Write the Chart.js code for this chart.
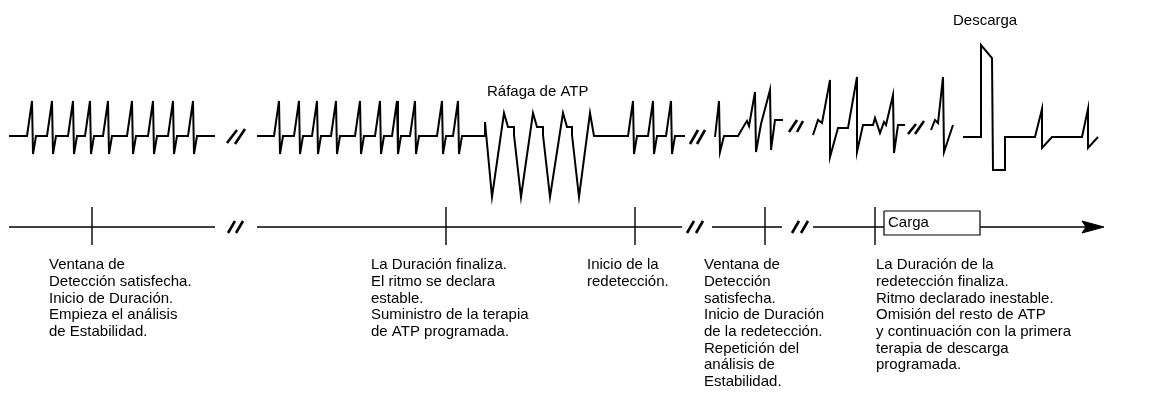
<!DOCTYPE html>
<html>
<head>
<meta charset="utf-8">
<script src="https://cdn.jsdelivr.net/npm/chart.js@4.4.1/dist/chart.umd.min.js"></script>
<style>
  html, body { margin: 0; padding: 0; background: #fff; }
  #wrap { width: 1168px; height: 401px; }
</style>
</head>
<body>
<div id="wrap"><canvas id="ecg" width="1168" height="401"></canvas></div>
<script>
// --- values ---
const baseline = 136;
// spike positions of the regular beats
const beatsA = [32, 52, 73, 90, 108, 132, 153, 173, 193];
const beatsB = [279, 299, 317, 336, 360, 380, 397, 415, 442, 458];
const beatsC = [633, 653, 671];

// ATP burst
const atpBurst = [[485,136],[485,122],[492,197],[504,113],[508,127],[514,127],[514,135],[521,197],
  [533,113],[537,127],[543,127],[543,135],[550,197],[563,113],[567,127],[572,127],[572,135],
  [579,197],[590,113],[594,136],[629,136]];

// redetection pieces
const redetect1 = [[715,137],[719,101],[720,152],[724,136],[738,136],[745,124],[747,121],[749,126],
  [755,92],[756,152],[761,124],[770,90],[771,150],[775,120],[783,120]];
const redetect2 = [[813,135],[818,120],[822,123],[830,80],[830,157],[838,128],[848,128],[857,77],
  [857,152],[863,125],[873,125],[875,118],[880,133],[884,122],[886,125],[893,95],[894,153],
  [898,125],[905,125]];
const redetect3 = [[931,130],[935,120],[938,123],[943,77],[944,152],[953,125]];
const shock = [[963,137],[981,137],[981,45],[992,58],[993,170],[1005,170],[1005,137],[1035,137],
  [1042,109],[1042,148],[1052,137],[1082,137],[1088,109],[1088,148],[1098,137]];

// break marks on the trace
const traceBreaks = [
  [[227,143],[237,130]], [[235,144],[245,129]],
  [[690,144],[698,130]], [[697,144],[705,130]],
  [[789,132],[797,120]], [[797,132],[803,121]],
  [[908,134],[916,124]], [[915,134],[924,121]]
];

// timeline
const timeY = 227;
const timeSegments = [[9,215],[257,682],[712,782],[813,884],[980,1100]];
const timeBreaks = [
  [[228,233],[235,221]], [[236,233],[243,221]],
  [[687,233],[694,221]], [[696,233],[703,221]],
  [[792,233],[799,221]], [[801,233],[808,221]]
];
const markers = [92, 446, 635, 765, 875];
const chargeBox = [[884,211],[980,211],[980,235],[884,235],[884,211]];
const arrowHead = [[1082,221],[1104,227],[1082,233],[1086,227],[1082,221]];

// labels
const captions = [
  { x: 49,  lines: ['Ventana de', 'Detección satisfecha.', 'Inicio de Duración.', 'Empieza el análisis', 'de Estabilidad.'] },
  { x: 371, lines: ['La Duración finaliza.', 'El ritmo se declara', 'estable.', 'Suministro de la terapia', 'de ATP programada.'] },
  { x: 587, lines: ['Inicio de la', 'redetección.'] },
  { x: 704, lines: ['Ventana de', 'Detección', 'satisfecha.', 'Inicio de Duración', 'de la redetección.', 'Repetición del', 'análisis de', 'Estabilidad.'] },
  { x: 876, lines: ['La Duración de la', 'redetección finaliza.', 'Ritmo declarado inestable.', 'Omisión del resto de ATP', 'y continuación con la primera', 'terapia de descarga', 'programada.'] }
];
const traceLabels = [
  { text: 'Ráfaga de ATP', x: 487, y: 92 },
  { text: 'Descarga', x: 953, y: 21 },
  { text: 'Carga', x: 888, y: 223 }
];

// --- build the line sets ---
function beat(x) {
  return [[x - 5, baseline], [x, 101], [x + 1, 154], [x + 4, baseline]];
}
function pts(list) {
  return list.map(p => ({ x: p[0], y: p[1] }));
}

let stripA = [[9, baseline]];
beatsA.forEach(b => { stripA = stripA.concat(beat(b)); });
stripA.push([215, baseline]);

let stripB = [[257, baseline]];
beatsB.forEach(b => { stripB = stripB.concat(beat(b)); });
stripB = stripB.concat(atpBurst);
beatsC.forEach(b => { stripB = stripB.concat(beat(b)); });
stripB.push([685, baseline]);

function line(list, width) {
  return {
    data: pts(list), showLine: true, borderColor: '#000', borderWidth: width || 2,
    pointRadius: 0, fill: false, tension: 0, borderJoinStyle: 'miter'
  };
}

const datasets = [];
[stripA, stripB, redetect1, redetect2, redetect3, shock].forEach(s => datasets.push(line(s, 2)));
traceBreaks.forEach(s => datasets.push(line(s, 2.6)));
timeSegments.forEach(s => datasets.push(line([[s[0], timeY], [s[1], timeY]], 1.4)));
timeBreaks.forEach(s => datasets.push(line(s, 2.6)));
markers.forEach(m => datasets.push(line([[m, 207], [m, 245]], 1.4)));
datasets.push(line(chargeBox, 1.2));
const head = line(arrowHead, 1);
head.fill = 'shape';
head.backgroundColor = '#000';
datasets.push(head);

// text on top of the lines
const textPlugin = {
  id: 'captions',
  afterDatasetsDraw(chart) {
    const ctx = chart.ctx;
    const sx = chart.scales.x, sy = chart.scales.y;
    ctx.save();
    ctx.fillStyle = '#000';
    ctx.font = '15px "Liberation Sans", Arial, sans-serif';
    ctx.textBaseline = 'middle';
    ctx.textAlign = 'left';
    captions.forEach(c => {
      c.lines.forEach((t, i) => {
        ctx.fillText(t, sx.getPixelForValue(c.x), sy.getPixelForValue(265 + i * 16.7));
      });
    });
    traceLabels.forEach(l => {
      ctx.fillText(l.text, sx.getPixelForValue(l.x), sy.getPixelForValue(l.y));
    });
    ctx.restore();
  }
};

new Chart(document.getElementById('ecg'), {
  type: 'scatter',
  data: { datasets: datasets },
  options: {
    responsive: false,
    animation: false,
    layout: { padding: 0 },
    plugins: { legend: { display: false }, tooltip: { enabled: false } },
    scales: {
      x: { type: 'linear', min: 0, max: 1168, display: false },
      y: { type: 'linear', min: 0, max: 401, reverse: true, display: false }
    }
  },
  plugins: [textPlugin]
});
</script>
</body>
</html>
